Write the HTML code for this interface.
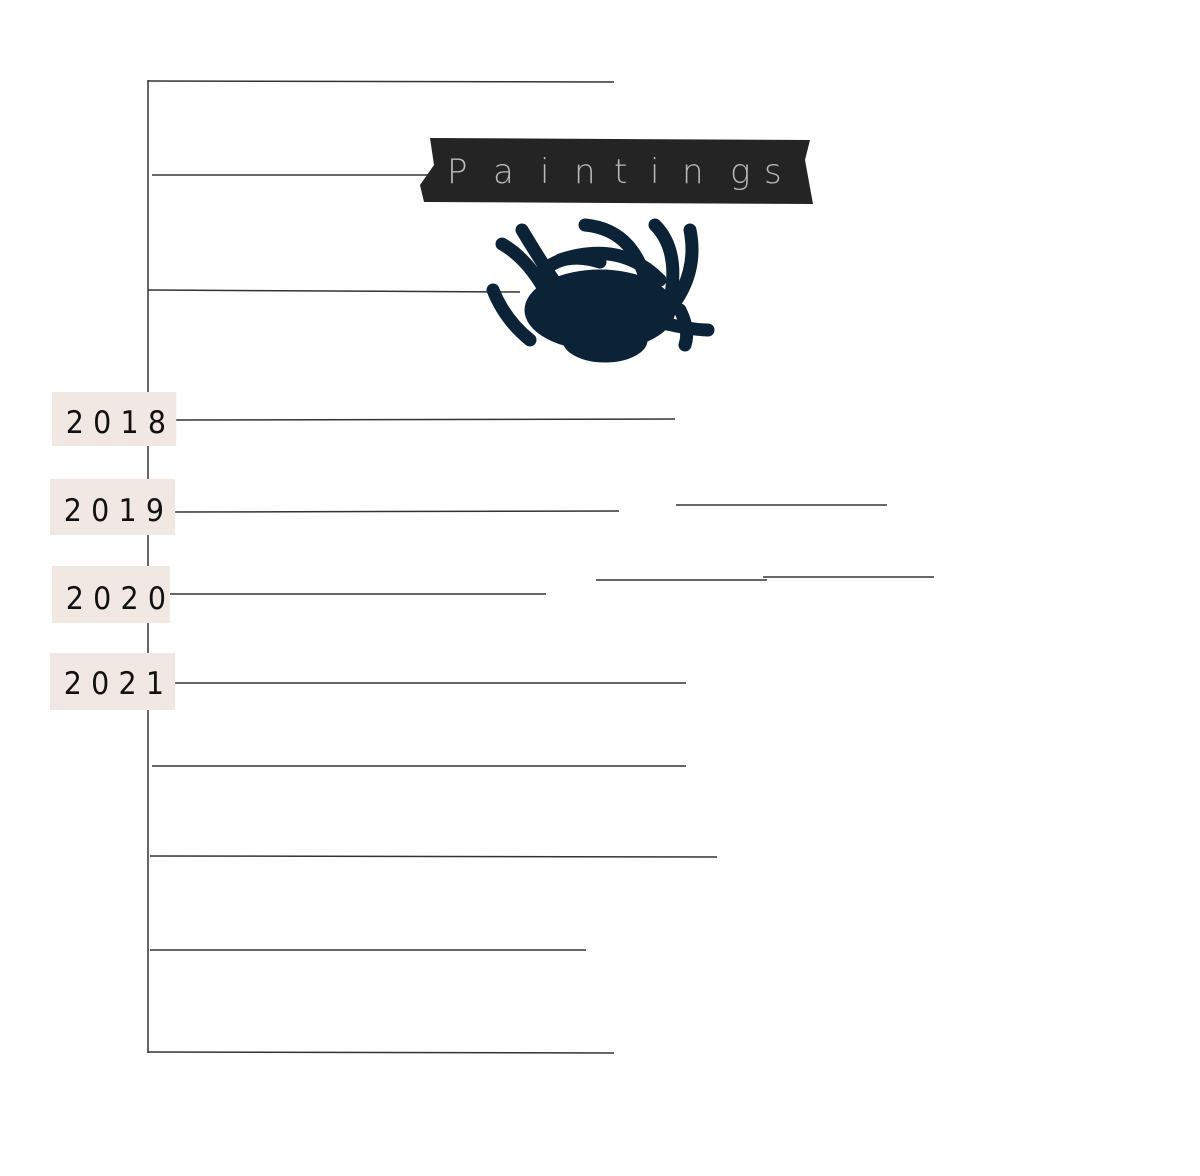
<!DOCTYPE html>
<html><head><style>
html,body{margin:0;padding:0;background:#fff}
body{width:1200px;height:1176px;position:relative;overflow:hidden;font-family:"Liberation Sans",sans-serif}
.tape{position:absolute;background:#f1e8e3;color:#111;font-size:31px;letter-spacing:10px;text-align:left;box-sizing:border-box;padding-left:15px;font-family:"DejaVu Sans",sans-serif;font-weight:normal;transform:scaleX(0.92);transform-origin:left}
</style></head><body>
<svg width="1200" height="1176" style="position:absolute;left:0;top:0">
<g stroke="#333" stroke-width="1.5" fill="none">
<line x1="148" y1="80" x2="148" y2="1053"/>
<line x1="148" y1="81" x2="614" y2="82"/>
<line x1="152" y1="175" x2="430" y2="175"/>
<line x1="148" y1="290" x2="520" y2="292"/>
<line x1="175" y1="420" x2="675" y2="419"/>
<line x1="175" y1="512" x2="619" y2="511"/>
<line x1="676" y1="505" x2="887" y2="505"/>
<line x1="170" y1="594" x2="546" y2="594"/>
<line x1="596" y1="580" x2="767" y2="580"/>
<line x1="763" y1="577" x2="934" y2="577"/>
<line x1="170" y1="683" x2="686" y2="683"/>
<line x1="152" y1="766" x2="686" y2="766"/>
<line x1="150" y1="856" x2="717" y2="857"/>
<line x1="150" y1="950" x2="586" y2="950"/>
<line x1="148" y1="1052" x2="614" y2="1053"/>
</g>
<polygon points="430,138 810,140 805,160 813,204 424,202 420,185 434,165" fill="#242424"/>
<g fill="#bbb" font-size="34" font-family="DejaVu Sans" font-weight="200">
<text x="447" y="183">P</text><text x="493" y="183">a</text><text x="540" y="183">i</text><text x="574" y="183">n</text><text x="614" y="183">t</text><text x="650" y="183">i</text><text x="682" y="183">n</text><text x="730" y="183">g</text><text x="764" y="183">s</text>
</g>
<g fill="#0c2236" stroke="#0c2236" stroke-linecap="round">
<ellipse cx="600" cy="310" rx="75" ry="40"/>
<ellipse cx="605" cy="340" rx="42" ry="22"/>
<g fill="none" stroke-width="13">
<path d="M522 230 Q540 260 560 290"/>
<path d="M502 244 Q530 260 550 300"/>
<path d="M493 290 Q505 320 530 340"/>
<path d="M560 260 Q620 240 660 280"/>
<path d="M585 225 Q640 230 650 300"/>
<path d="M655 225 Q680 250 670 300"/>
<path d="M690 230 Q700 280 660 320"/>
<path d="M650 320 Q690 330 708 330"/>
<path d="M540 275 Q560 250 600 262"/>
<path d="M680 310 Q690 330 685 345"/>
</g>
</g>
</svg>
<div class="tape" style="left:52px;top:392px;width:135px;height:54px;line-height:62px">2018</div>
<div class="tape" style="left:50px;top:479px;width:136px;height:56px;line-height:64px">2019</div>
<div class="tape" style="left:52px;top:566px;width:128px;height:57px;line-height:66px">2020</div>
<div class="tape" style="left:50px;top:653px;width:136px;height:57px;line-height:62px">2021</div>
</body></html>
